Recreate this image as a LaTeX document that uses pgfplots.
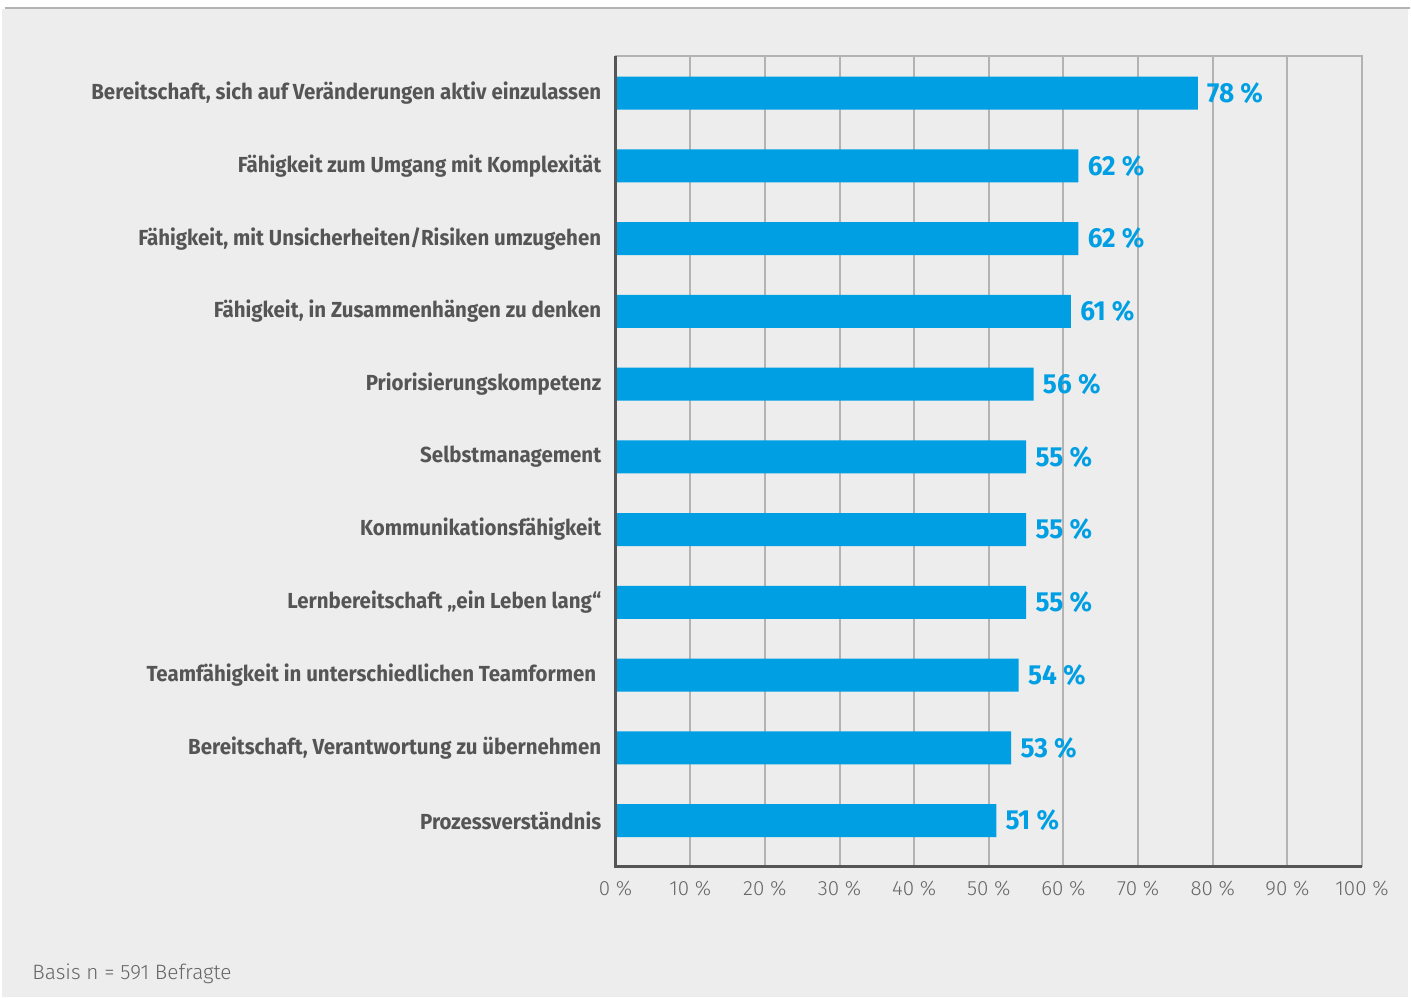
\documentclass[border=0pt]{standalone}
\usepackage{fontspec}
\usepackage{pgfplots}
\pgfplotsset{compat=1.18}
\setmainfont{Fira Sans}
\newfontfamily\catfont{Fira Sans}[FakeStretch=0.94]
\newfontfamily\valfont{Fira Sans}[FakeStretch=0.95]
\newfontfamily\lightfont{Fira Sans Light}
\definecolor{bg}{HTML}{EDEDED}
\definecolor{barblue}{HTML}{009FE3}
\definecolor{gridgray}{HTML}{B3B3B3}
\definecolor{darkax}{HTML}{555555}
\definecolor{labgray}{HTML}{555555}
\definecolor{tickgray}{HTML}{666666}
\pgfplotstableread{
y v
0 78
1 62
2 62
3 61
4 56
5 55
6 55
7 55
8 54
9 53
10 51
}\datatable
\begin{document}
\begin{tikzpicture}
\fill[white] (0pt,0pt) rectangle (705.5pt,499pt);
\fill[bg] (1pt,0pt) rectangle (704.5pt,494.5pt);
\draw[gridgray, line width=1pt] (2.5pt,494.75pt) -- (705.5pt,494.75pt);
\begin{axis}[
  at={(308pt,65.5pt)}, anchor=south west,
  scale only axis, width=373.5pt, height=405.5pt,
  xbar, bar width=16.5pt,
  xmin=0, xmax=100,
  ymin=-0.51, ymax=10.63,
  y dir=reverse,
  xtick={0,10,...,100},
  xticklabels={0 \%,10 \%,20 \%,30 \%,40 \%,50 \%,60 \%,70 \%,80 \%,90 \%,100 \%},
  ytick={0,...,10},
  yticklabels={
    Bereitschaft{,} sich auf Veränderungen aktiv einzulassen,
    Fähigkeit zum Umgang mit Komplexität,
    Fähigkeit{,} mit Unsicherheiten/Risiken umzugehen,
    Fähigkeit{,} in Zusammenhängen zu denken,
    Priorisierungskompetenz,
    Selbstmanagement,
    Kommunikationsfähigkeit,
    Lernbereitschaft „ein Leben lang“,
    Teamfähigkeit in unterschiedlichen Teamformen\kern2.5pt\relax,
    Bereitschaft{,} Verantwortung zu übernehmen,
    Prozessverständnis},
  major tick length=0pt,
  xmajorgrids, grid style={gridgray, line width=1pt},
  axis line style={gridgray, line width=1pt},
  xticklabel style={font=\lightfont\fontsize{10.3}{12}\selectfont, text=tickgray, inner sep=0pt, yshift=-7pt},
  yticklabel style={font=\catfont\bfseries\fontsize{10.9}{13}\selectfont, text=labgray, inner sep=0pt, xshift=-7pt},
  nodes near coords={\pgfmathprintnumber[assume math mode=true]{\pgfplotspointmeta} \%},
  point meta=x,
  nodes near coords style={font=\valfont\bfseries\fontsize{13.8}{16}\selectfont, text=barblue, anchor=west, inner sep=0pt, xshift=4.5pt},
  clip=false,
]
\addplot[fill=barblue, draw=none] table[x=v, y=y] {\datatable};
\draw[darkax, line width=1.5pt] (rel axis cs:0,1) -- (rel axis cs:0,0) -- (rel axis cs:1,0);
\end{axis}
\node[anchor=base west, inner sep=0pt, font=\lightfont\fontsize{10.4}{13}\selectfont, text=tickgray] at (16pt,9pt) {Basis n = 591 Befragte};
\end{tikzpicture}
\end{document}
